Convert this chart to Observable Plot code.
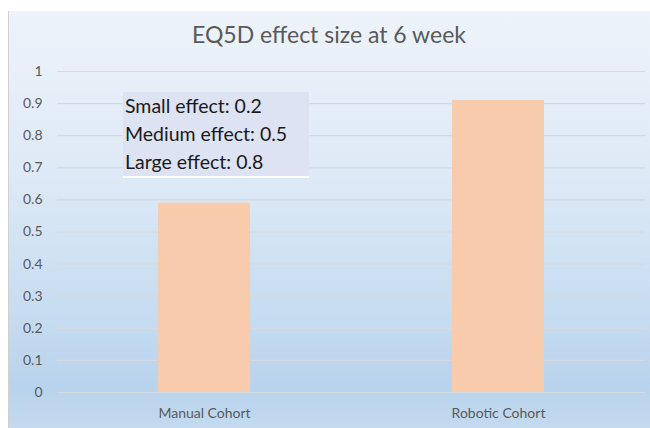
<!DOCTYPE html>
<html>
<head>
<meta charset="utf-8">
<script src="https://cdn.jsdelivr.net/npm/d3@7"></script>
<script src="https://cdn.jsdelivr.net/npm/@observablehq/plot@0.6"></script>
<style>
  html, body { margin: 0; padding: 0; background: #fff; }
  #wrap { position: relative; width: 650px; height: 428px; overflow: hidden; font-family: Lato, "Open Sans", sans-serif; }
  #bg { position: absolute; left: 8px; top: 11px; width: 642px; height: 417px;
        background: linear-gradient(to bottom, #eef3fa 0%, #dde9f6 40%, #c4dbf0 75%, #b8d3ec 90%, #c3daef 100%);
        border-left: 1px solid #d0d0d0; }
  #title { position: absolute; left: 8px; width: 642px; top: 20px; text-align: center;
           font-size: 23px; color: #595959; }
  #chart { position: absolute; left: 0; top: 0; }
  #note { position: absolute; left: 123px; top: 92px; width: 186px; height: 84px;
          background: #dde3f2; border-bottom: 2px solid #ffffff; font-size: 19.5px; color: #1a1a1a;
          line-height: 28px; box-sizing: content-box; }
  #note div { padding-left: 2px; }
</style>
</head>
<body>
<div id="wrap">
  <div id="bg"></div>
  <div id="chart"></div>
  <div id="title"></div>
  <div id="note"></div>
</div>
<script>
const title = "EQ5D effect size at 6 week";
const categories = ["Manual Cohort", "Robotic Cohort"];
const values = [0.59, 0.91];
const yTicks = [0, 0.1, 0.2, 0.3, 0.4, 0.5, 0.6, 0.7, 0.8, 0.9, 1];
const noteLines = ["Small effect: 0.2", "Medium effect: 0.5", "Large effect: 0.8"];

const data = categories.map((c, i) => ({category: c, value: values[i]}));

document.getElementById("title").textContent = title;
const note = document.getElementById("note");
noteLines.forEach(t => { const d = document.createElement("div"); d.textContent = t; note.appendChild(d); });

const chart = Plot.plot({
  width: 650,
  height: 428,
  marginTop: 71,
  marginBottom: 36,
  marginLeft: 57,
  marginRight: 5,
  style: { background: "transparent", fontFamily: "Lato, 'Open Sans', sans-serif" },
  x: { domain: categories, paddingInner: 0.687, paddingOuter: 0.3435, label: null },
  y: { domain: [0, 1], label: null },
  marks: [
    Plot.gridY(yTicks, { stroke: "#d6d9dd", strokeOpacity: 1, strokeWidth: 1.2 }),
    Plot.barY(data, { x: "category", y: "value", fill: "#f8cbad" }),
    Plot.axisY(yTicks, { tickSize: 0, tickPadding: 15, fontSize: 14, fill: "#595959",
      tickFormat: d => String(+d.toFixed(1)) }),
    Plot.axisX({ tickSize: 0, tickPadding: 16, fontSize: 14, fill: "#595959" })
  ]
});
document.getElementById("chart").appendChild(chart);
</script>
</body>
</html>
